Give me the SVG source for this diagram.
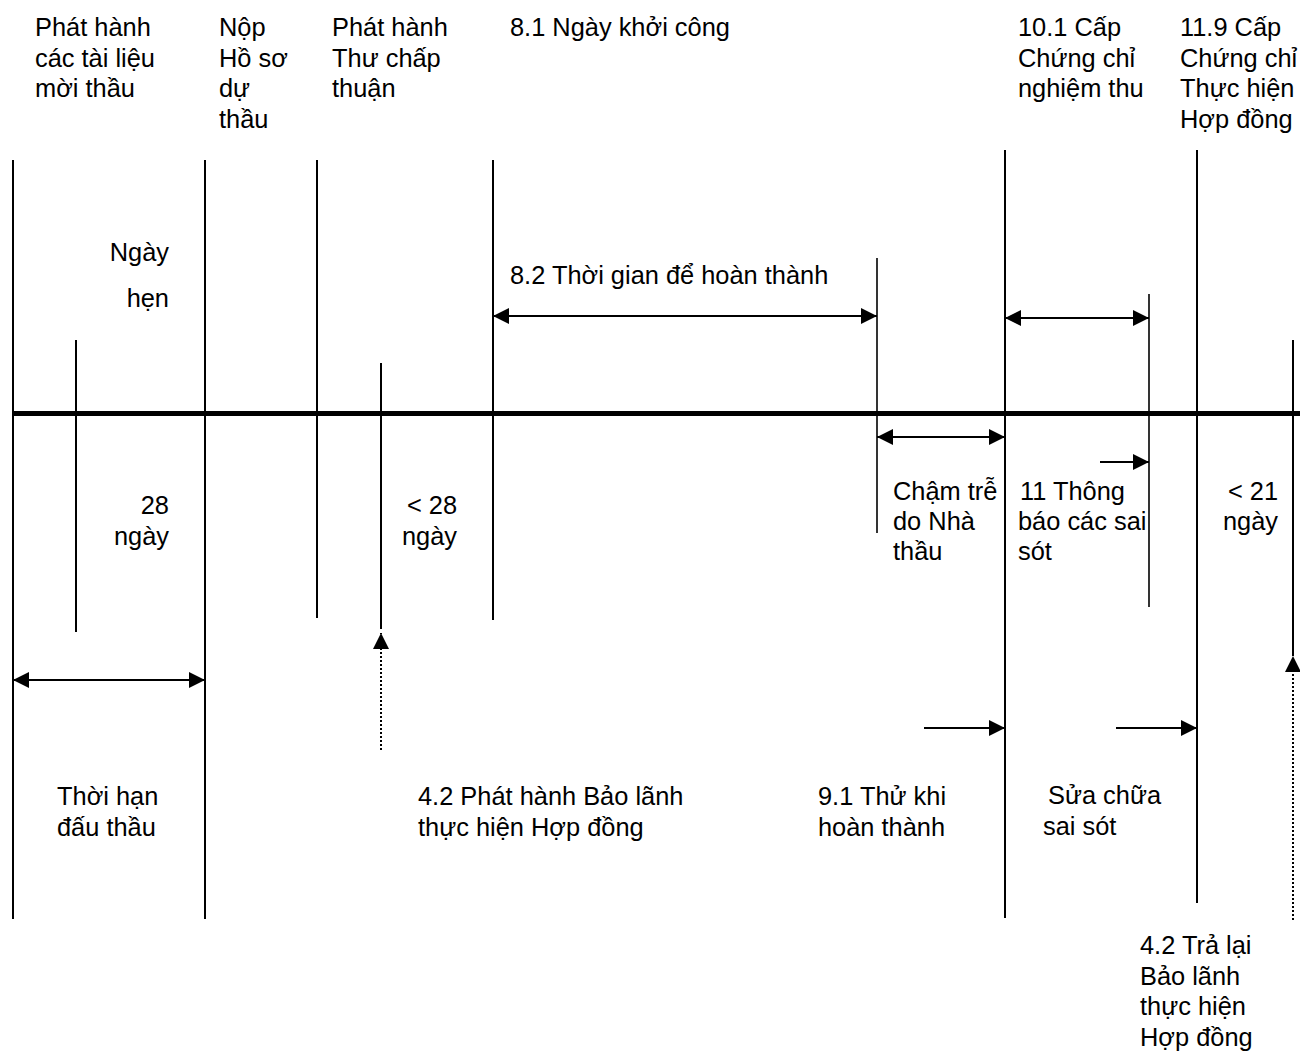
<svg xmlns="http://www.w3.org/2000/svg" width="1300" height="1052" viewBox="0 0 1300 1052">
<style>
text{font-family:"Liberation Sans",Arial,sans-serif;font-size:25.4px;fill:#000}
.r{text-anchor:end}
.v{stroke:#000;stroke-width:2;fill:none}
.t{stroke:#000;stroke-width:1.6;fill:none}
.a{stroke:#000;stroke-width:2;fill:none;marker-end:url(#ah)}
.d{stroke:#000;stroke-width:2;fill:none;marker-start:url(#ah);marker-end:url(#ah)}
.dot{stroke:#000;stroke-width:2;stroke-dasharray:2 2;fill:none;marker-end:url(#ah)}
</style>
<defs>
<marker id="ah" viewBox="0 0 16 16" markerWidth="16" markerHeight="16" refX="16" refY="8" orient="auto-start-reverse" markerUnits="userSpaceOnUse">
<path d="M0,0 L16,8 L0,16 z" fill="#000"/>
</marker>
</defs>
<rect width="1300" height="1052" fill="#fff"/>

<g id="timeline">
<line x1="13" y1="413.5" x2="1300" y2="413.5" stroke="#000" stroke-width="5"/>
</g>

<g id="n-phat-hanh-tai-lieu">
<line class="v" x1="13" y1="160" x2="13" y2="919"/>
<text x="35" y="36">Phát hành</text>
<text x="35" y="66.5">các tài liệu</text>
<text x="35" y="97">mời thầu</text>
</g>

<g id="n-ngay-hen">
<line class="v" x1="76" y1="340" x2="76" y2="632"/>
<text class="r" x="169" y="261">Ngày</text>
<text class="r" x="169" y="307">hẹn</text>
<text class="r" x="169" y="514">28</text>
<text class="r" x="169" y="545">ngày</text>
</g>

<g id="n-nop-ho-so">
<line class="v" x1="205" y1="160" x2="205" y2="919"/>
<text x="219" y="36">Nộp</text>
<text x="219" y="66.5">Hồ sơ</text>
<text x="219" y="97">dự</text>
<text x="219" y="127.5">thầu</text>
</g>

<g id="n-thu-chap-thuan">
<line class="v" x1="317" y1="160" x2="317" y2="618"/>
<text x="332" y="36">Phát hành</text>
<text x="332" y="66.5">Thư chấp</text>
<text x="332" y="97">thuận</text>
</g>

<g id="n-28-ngay">
<line class="v" x1="381" y1="363" x2="381" y2="629"/>
<text class="r" x="457" y="514">&lt; 28</text>
<text class="r" x="457" y="545">ngày</text>
</g>

<g id="n-ngay-khoi-cong">
<line class="v" x1="493" y1="160" x2="493" y2="620"/>
<text x="510" y="36">8.1 Ngày khởi công</text>
<text x="510" y="284">8.2 Thời gian để hoàn thành</text>
</g>

<g id="n-hoan-thanh">
<line class="t" x1="877" y1="258" x2="877" y2="533"/>
<text x="893" y="500">Chậm trễ</text>
<text x="893" y="530">do Nhà</text>
<text x="893" y="560">thầu</text>
</g>

<g id="n-nghiem-thu">
<line class="v" x1="1005" y1="150" x2="1005" y2="918"/>
<text x="1018" y="36">10.1 Cấp</text>
<text x="1018" y="66.5">Chứng chỉ</text>
<text x="1018" y="97">nghiệm thu</text>
<text x="1020" y="500">11 Thông</text>
<text x="1018" y="530">báo các sai</text>
<text x="1018" y="560">sót</text>
</g>

<g id="n-thong-bao-sai-sot">
<line class="t" x1="1149" y1="294" x2="1149" y2="607"/>
</g>

<g id="n-thuc-hien-hop-dong">
<line class="v" x1="1197" y1="150" x2="1197" y2="903"/>
<text x="1180" y="36">11.9 Cấp</text>
<text x="1180" y="66.5">Chứng chỉ</text>
<text x="1180" y="97">Thực hiện</text>
<text x="1180" y="127.5">Hợp đồng</text>
</g>

<g id="n-21-ngay">
<line class="v" x1="1293" y1="340" x2="1293" y2="656"/>
<text class="r" x="1278" y="500">&lt; 21</text>
<text class="r" x="1278" y="530">ngày</text>
</g>

<g id="n-thoi-han-dau-thau">
<text x="57" y="805">Thời hạn</text>
<text x="57" y="836">đấu thầu</text>
</g>

<g id="n-phat-hanh-bao-lanh">
<text x="418" y="805">4.2 Phát hành Bảo lãnh</text>
<text x="418" y="836">thực hiện Hợp đồng</text>
</g>

<g id="n-thu-khi-hoan-thanh">
<text x="818" y="805">9.1 Thử  khi</text>
<text x="818" y="836">hoàn thành</text>
</g>

<g id="n-sua-chua">
<text x="1048" y="804">Sửa chữa</text>
<text x="1043" y="835">sai sót</text>
</g>

<g id="n-tra-lai-bao-lanh">
<text x="1140" y="954">4.2 Trả lại</text>
<text x="1140" y="985">Bảo lãnh</text>
<text x="1140" y="1015">thực hiện</text>
<text x="1140" y="1046">Hợp đồng</text>
</g>

<g id="connectors">
<line class="d" x1="493" y1="316" x2="877" y2="316"/>
<line class="d" x1="1005" y1="318" x2="1149" y2="318"/>
<line class="d" x1="877" y1="437" x2="1005" y2="437"/>
<line class="a" x1="1100" y1="462" x2="1149" y2="462"/>
<line class="d" x1="13" y1="680" x2="205" y2="680"/>
<line class="a" x1="924" y1="728" x2="1005" y2="728"/>
<line class="a" x1="1116" y1="728" x2="1197" y2="728"/>
<line class="dot" x1="381" y1="750" x2="381" y2="633"/>
<line class="dot" x1="1293" y1="920" x2="1293" y2="656"/>
</g>
</svg>
